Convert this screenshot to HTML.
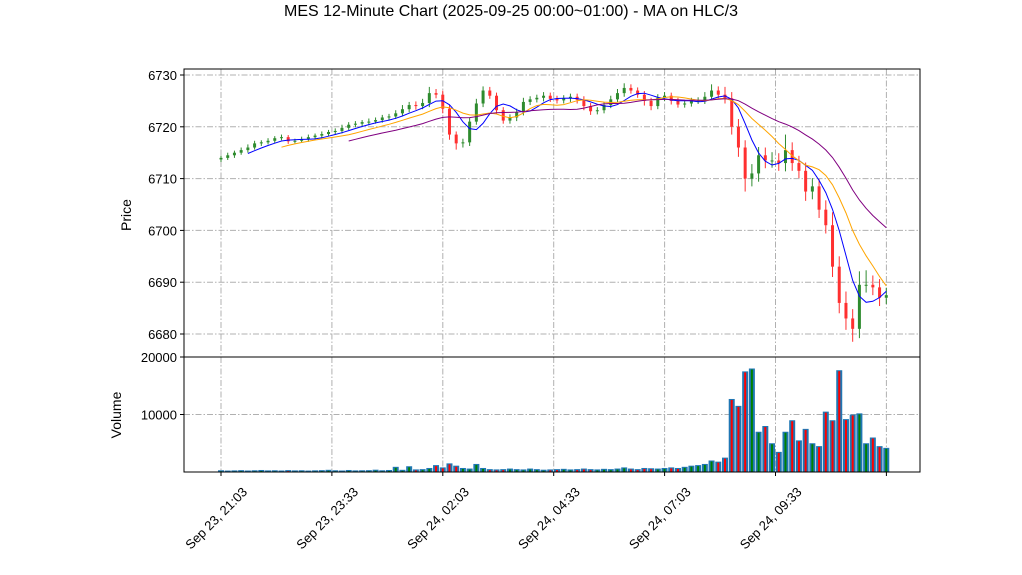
<!DOCTYPE html>
<html><head><meta charset="utf-8"><style>
html,body{margin:0;padding:0;background:#fff;}
svg{display:block;font-family:"Liberation Sans","DejaVu Sans",sans-serif;}
</style></head><body>
<svg id="chart" width="1022" height="575" viewBox="0 0 1022 575" xmlns="http://www.w3.org/2000/svg">
<rect width="1022" height="575" fill="#fff"/>
<text x="511" y="16" text-anchor="middle" font-size="16">MES 12-Minute Chart (2025-09-25 00:00~01:00) - MA on HLC/3</text>
<g id="grid"></g>
<g id="vol"></g>
<g id="candles"></g>
<g id="mas"></g>
<g id="axes"></g>
<text transform="translate(131,215) rotate(-90)" text-anchor="middle" font-size="14">Price</text>
<text transform="translate(121,415) rotate(-90)" text-anchor="middle" font-size="14">Volume</text>
</svg>
<script>
const closes=[6714,6714.5,6715,6715.5,6716,6716.8,6717,6717.3,6717.8,6718,6717.2,6717.3,6717.6,6718,6718.3,6718.6,6719,6719.2,6719.8,6720.4,6720.6,6720.9,6721,6721.3,6721.8,6722,6722.6,6723.4,6724.2,6724,6724.6,6726.5,6726.2,6723.5,6718.5,6716.8,6717,6721,6724.5,6727,6726,6723.2,6721.2,6721.8,6722.8,6724.8,6725.3,6725.6,6726,6725.4,6725.1,6725.5,6725.8,6725.2,6724,6723,6723.2,6724.2,6725.3,6726.5,6727.5,6727,6726.2,6725,6724,6725.6,6726,6725,6724.3,6724.5,6725,6725,6725.8,6727,6726.2,6725.5,6720,6716,6710,6711,6714.5,6713.5,6713.5,6713,6715.5,6713,6711.5,6707.5,6708.5,6704,6701,6693,6686,6683,6681,6689.5,6689.5,6689,6687,6687.5];
const upWick=[0.4,0.5,0.4,0.5,0.6,0.5,0.4,0.5,0.4,0.5,0.4,0.4,0.5,0.5,0.4,0.5,0.4,0.5,0.6,0.5,0.5,0.4,0.6,0.5,0.5,0.5,0.6,0.8,0.6,0.7,0.8,1.2,0.8,0.8,0.8,0.6,0.7,0.8,0.9,0.8,0.7,0.6,0.6,0.6,0.7,0.8,0.6,0.6,0.7,0.6,0.6,0.6,0.6,0.6,0.7,0.6,0.6,0.6,0.7,0.8,0.9,0.7,0.6,0.7,0.6,0.7,0.7,0.6,0.6,0.7,0.6,0.7,0.9,1.2,0.8,1.5,1.2,1.5,1.4,1.8,1.6,1.5,1.6,1.4,3,1.5,1.4,1.6,1.6,1.4,1.8,2.5,2,2.2,1.8,2.6,2.8,1.8,1.6,1.4];
const downWick=[0.5,0.4,0.5,0.4,0.5,0.4,0.5,0.4,0.5,0.4,0.5,0.4,0.4,0.5,0.4,0.5,0.4,0.5,0.5,0.4,0.5,0.5,0.6,0.4,0.5,0.6,0.5,0.6,0.6,0.7,0.6,0.8,0.7,0.9,1,1.2,0.8,0.7,0.6,0.7,0.6,0.7,0.6,0.6,0.7,0.6,0.6,0.6,0.7,0.6,0.6,0.6,0.7,0.7,0.8,0.7,0.6,0.6,0.6,0.6,0.7,0.6,0.6,0.9,0.8,0.6,0.6,0.7,0.6,0.6,0.6,0.6,0.6,0.6,0.7,1,1.5,1.8,2.5,1.5,1.6,1.5,1.4,1.5,1.6,1.5,1.4,1.8,1.5,1.6,1.6,2,2,2.2,2.5,1.8,1.5,1.5,1.6,1.2];
const volumes=[300,250,280,320,260,300,350,280,300,260,330,280,300,250,290,320,380,300,260,350,280,300,320,400,300,350,900,380,1000,450,500,700,1200,800,1500,1100,700,600,1400,700,500,450,500,600,500,450,600,500,400,450,500,550,450,500,600,500,450,550,500,600,800,600,500,700,650,600,700,800,700,900,1100,1200,1400,2000,1800,2500,12700,11500,17500,18000,7000,8000,5000,3500,7000,9000,5500,7500,5000,4500,10500,9000,17700,9200,10000,10200,5000,6000,4500,4200];
const tickLabels=["Sep 23, 21:03","Sep 23, 23:33","Sep 24, 02:03","Sep 24, 04:33","Sep 24, 07:03","Sep 24, 09:33",""];
const priceTicks=[6680,6690,6700,6710,6720,6730];
const volTicks=[10000,20000];
const maWindows=[5,10,20];
const maColors=["#0000ff","#ffa500","#800080"];

const NS="http://www.w3.org/2000/svg";
const L=184,R=920,PT=69,PB=357,VT=357,VB=472;
const X0=221,XSTEP=6.72,TSTEP=110.9;
const py=p=>75+(6730-p)*5.18;
const vy=v=>VB-v/20000*(VB-VT);
const bx=i=>X0+i*XSTEP;
function mk(tag,attrs,parent){const e=document.createElementNS(NS,tag);for(const k in attrs)e.setAttribute(k,attrs[k]);parent.appendChild(e);return e;}
const grid=document.getElementById('grid'),vol=document.getElementById('vol'),cg=document.getElementById('candles'),mg=document.getElementById('mas'),ax=document.getElementById('axes');
const gstyle={stroke:"#b0b0b0","stroke-width":1,"stroke-dasharray":"6,2,1.5,2",fill:"none"};
tickLabels.forEach((t,k)=>{const x=X0+k*TSTEP;
 let g=mk('line',Object.assign({x1:x,x2:x,y1:PT,y2:PB},gstyle),grid);
 
 g=mk('line',Object.assign({x1:x,x2:x,y1:VT,y2:VB},gstyle),grid);
 
 const tk=mk('line',{x1:x,x2:x,y1:VB,y2:VB+4,stroke:"#000"},ax);
 
 if(t){const tx=mk('text',{transform:`translate(${x-4},${519}) rotate(-45)`,"text-anchor":"middle","dominant-baseline":"middle","font-size":"13"},ax);tx.textContent=t;
 }
});
priceTicks.forEach(p=>{const y=py(p);
 const g=mk('line',Object.assign({x1:L,x2:R,y1:y,y2:y},gstyle),grid);
 
 const tk=mk('line',{x1:L-4,x2:L,y1:y,y2:y,stroke:"#000"},ax);
 
 const tx=mk('text',{x:L-7,y:y+5,"text-anchor":"end","font-size":"13"},ax);tx.textContent=p;
 
});
volTicks.forEach(v=>{const y=vy(v);
 if(v<20000){const g=mk('line',Object.assign({x1:L,x2:R,y1:y,y2:y},gstyle),grid);
 }
 const tk=mk('line',{x1:L-4,x2:L,y1:y,y2:y,stroke:"#000"},ax);
 
 const tx=mk('text',{x:L-7,y:y+5,"text-anchor":"end","font-size":"13"},ax);tx.textContent=v;
 
});
closes.forEach((c,i)=>{const o=i?closes[i-1]:c-0.3;const up=c>=o;const col=up?"#2e8b2e":"#ff3030";
 const hi=Math.max(o,c)+upWick[i],lo=Math.min(o,c)-downWick[i];const x=bx(i);
 const w=mk('line',{x1:x,x2:x,y1:py(hi),y2:py(lo),stroke:col,"stroke-width":1},cg);
 
 const yt=py(Math.max(o,c)),yb=py(Math.min(o,c));
 const b=mk('rect',{x:x-1.5,y:yt,width:3,height:Math.max(1,yb-yt),fill:col},cg);
 
 const v=volumes[i],y=vy(v);
 const vb=mk('rect',{x:x-3,y:y,width:6,height:VB-y,fill:"#1f77b4"},vol);
 
 const vi=mk('rect',{x:x-1,y:y+1,width:2,height:Math.max(0,VB-y-1),fill:up?"#008000":"#ff0000"},vol);
 
});
const hlc=closes.map((c,i)=>{const o=i?closes[i-1]:c-0.3;return (Math.max(o,c)+upWick[i]+Math.min(o,c)-downWick[i]+c)/3;});
maWindows.forEach((n,k)=>{let d="";
 for(let i=n-1;i<hlc.length;i++){let s=0;for(let j=i-n+1;j<=i;j++)s+=hlc[j];d+=(i===n-1?"M":"L")+bx(i).toFixed(1)+","+py(s/n).toFixed(1);}
 const p=mk('path',{d:d,fill:"none",stroke:maColors[k],"stroke-width":1},mg);
 
});
let f=mk('rect',{x:L,y:PT,width:R-L,height:PB-PT,fill:"none",stroke:"#000"},ax);

f=mk('rect',{x:L,y:VT,width:R-L,height:VB-VT,fill:"none",stroke:"#000"},ax);

</script>
</body></html>
